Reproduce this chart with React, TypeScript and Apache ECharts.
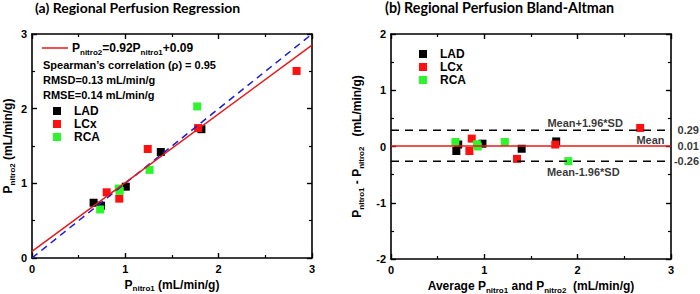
import React, { useEffect, useRef } from 'react';
import * as echarts from 'echarts';

// (a) regression: P_nitro1 (x) vs P_nitro2 (y)
const ladP1 = [0.66, 0.74, 1.005, 1.38, 1.815];
const ladP2 = [0.74, 0.70, 0.955, 1.42, 1.725];
const lcxP1 = [0.80, 0.935, 1.24, 1.78, 2.835];
const lcxP2 = [0.88, 0.795, 1.46, 1.74, 2.505];
const rcaP1 = [0.73, 0.93, 0.94, 1.26, 1.77];
const rcaP2 = [0.65, 0.93, 0.90, 1.18, 2.03];
const regLineX = [0, 3];
const regLineY = [0.09, 2.85];
const idLineX = [0, 3];
const idLineY = [0, 3];

// (b) Bland-Altman: average (x) vs difference (y)
const ladAvg = [0.70, 0.72, 0.98, 1.40, 1.77];
const ladDiff = [-0.08, 0.035, 0.05, -0.04, 0.09];
const lcxAvg = [0.84, 0.865, 1.35, 1.76, 2.67];
const lcxDiff = [-0.08, 0.14, -0.22, 0.035, 0.33];
const rcaAvg = [0.69, 0.93, 0.92, 1.22, 1.90];
const rcaDiff = [0.08, 0.0, 0.04, 0.08, -0.26];
const baX = [0, 3];
const meanDiff = 0.01;
const upperLoA = 0.29;
const lowerLoA = -0.26;
const baNotes = [
  { x: 2.08, y: 0.41, text: 'Mean+1.96*SD' },
  { x: 2.78, y: 0.11, text: 'Mean' },
  { x: 2.06, y: -0.45, text: 'Mean-1.96*SD' },
];
const valueLabelX = 3.3;
const valueLabels = [
  { y: upperLoA, text: '0.29' },
  { y: meanDiff, text: '0.01' },
  { y: lowerLoA, text: '-0.26' },
];

const xTicksA = [0, 1, 2, 3];
const yTicksA = [0, 1, 2, 3];
const xTicksB = [0, 1, 2, 3];
const yTicksB = [-2, -1, 0, 1, 2];

const groups = ['LAD', 'LCx', 'RCA'];
const colors: Record<string, string> = { LAD: '#000000', LCx: '#ff1010', RCA: '#2cf52c' };

const FONT = '"Liberation Sans", Arial, sans-serif';
const TITLE_FONT = 'Lato, "Open Sans", sans-serif';

const zip = (a: number[], b: number[]) => a.map((v, i) => [v, b[i]]);

const subRich = {
  t: { fontFamily: FONT, fontWeight: 'bold', fontSize: 12, color: '#000', lineHeight: 16 },
  s: { fontFamily: FONT, fontWeight: 'bold', fontSize: 8, color: '#000', lineHeight: 8, verticalAlign: 'bottom' },
};

function axisCommon(gridIndex: number, ticks: number[], showLabels: boolean) {
  return {
    type: 'value',
    gridIndex,
    min: ticks[0],
    max: ticks[ticks.length - 1],
    interval: 1,
    axisLine: { show: true, onZero: false, lineStyle: { color: '#000', width: 1.6 } },
    axisTick: { show: true, inside: true, length: 5, lineStyle: { color: '#000', width: 1.4 } },
    minorTick: { show: true, splitNumber: 2, length: 3, lineStyle: { color: '#000', width: 1.2 } },
    splitLine: { show: false },
    axisLabel: {
      show: showLabels,
      margin: 5,
      fontFamily: FONT,
      fontWeight: 'bold',
      fontSize: 11,
      color: '#000',
    },
  };
}

const legendCommon = {
  data: groups,
  orient: 'vertical',
  itemWidth: 8,
  itemHeight: 8,
  itemGap: 1,
  icon: 'rect',
  textStyle: { fontFamily: FONT, fontWeight: 'bold', fontSize: 12, color: '#000', padding: [0, 0, 0, 8] },
};

export default function App() {
  const ref = useRef<HTMLDivElement>(null);
  useEffect(() => {
    if (!ref.current) return;
    const chart = echarts.init(ref.current, undefined, { renderer: 'svg' });

    const p1s = [ladP1, lcxP1, rcaP1];
    const p2s = [ladP2, lcxP2, rcaP2];
    const avgs = [ladAvg, lcxAvg, rcaAvg];
    const diffs = [ladDiff, lcxDiff, rcaDiff];

    const scatterA = groups.map((g, i) => ({
      name: g,
      type: 'scatter',
      xAxisIndex: 0,
      yAxisIndex: 0,
      symbol: 'rect',
      symbolSize: 8,
      itemStyle: { color: colors[g], opacity: 1 },
      z: 2,
      data: zip(p1s[i], p2s[i]),
    }));
    const scatterB = groups.map((g, i) => ({
      name: g,
      type: 'scatter',
      xAxisIndex: 2,
      yAxisIndex: 2,
      symbol: 'rect',
      symbolSize: 8,
      itemStyle: { color: colors[g], opacity: 1 },
      z: 2,
      data: zip(avgs[i], diffs[i]),
    }));

    const hLine = (y: number, color: string, type: any) => ({
      type: 'line',
      xAxisIndex: 2,
      yAxisIndex: 2,
      symbol: 'none',
      silent: true,
      z: 3,
      lineStyle: { color, width: 1.5, type },
      data: baX.map((x) => [x, y]),
    });

    const labelStyle = {
      fontFamily: FONT,
      fontWeight: 'bold',
      fontSize: 11,
      color: '#000',
    };

    const option: any = {
      animation: false,
      backgroundColor: '#fff',
      grid: [
        { left: 32, top: 34, width: 280, height: 224, outerBoundsMode: 'none', containLabel: false },
        { left: 391, top: 34, width: 280, height: 225, outerBoundsMode: 'none', containLabel: false },
      ],
      xAxis: [
        {
          ...axisCommon(0, xTicksA, true),
          position: 'bottom',
          name: '{t|P}{s|nitro1}{t| (mL/min/g)}',
          nameLocation: 'middle',
          nameGap: 17,
          nameTextStyle: { rich: subRich },
        },
        { ...axisCommon(0, xTicksA, false), position: 'top' },
        {
          ...axisCommon(1, xTicksB, true),
          position: 'bottom',
          name: '{t|Average P}{s|nitro1}{t| and P}{s|nitro2}{t|  (mL/min/g)}',
          nameLocation: 'middle',
          nameGap: 19,
          nameTextStyle: { rich: subRich },
        },
        { ...axisCommon(1, xTicksB, false), position: 'top' },
      ],
      yAxis: [
        {
          ...axisCommon(0, yTicksA, true),
          position: 'left',
          name: '{t|P}{s|nitro2}{t| (mL/min/g)}',
          nameLocation: 'middle',
          nameGap: 16,
          nameTextStyle: { rich: subRich },
        },
        { ...axisCommon(0, yTicksA, false), position: 'right' },
        {
          ...axisCommon(1, yTicksB, true),
          position: 'left',
          name: '{t|P}{s|nitro1}{t| - P}{s|nitro2}{t|   (mL/min/g)}',
          nameLocation: 'middle',
          nameGap: 26,
          nameTextStyle: { rich: subRich },
        },
        { ...axisCommon(1, yTicksB, false), position: 'right' },
      ],
      legend: [
        { ...legendCommon, left: 48, top: 100 },
        { ...legendCommon, left: 414, top: 43 },
      ],
      graphic: [
        {
          type: 'text',
          left: 35,
          top: 0,
          style: { text: '(a) Regional Perfusion Regression', font: `bold 14px ${TITLE_FONT}`, fill: '#000' },
        },
        {
          type: 'text',
          left: 385,
          top: 0,
          style: { text: '(b) Regional Perfusion Bland-Altman', font: `bold 14.3px ${TITLE_FONT}`, fill: '#000' },
        },
        {
          type: 'line',
          shape: { x1: 42, y1: 48, x2: 68, y2: 48 },
          style: { stroke: '#e81818', lineWidth: 1.5 },
        },
        {
          type: 'text',
          x: 72,
          y: 48,
          style: {
            text: '{t|P}{s|nitro2}{t|=0.92P}{s|nitro1}{t|+0.09}',
            rich: subRich,
            verticalAlign: 'middle',
          },
        },
        {
          type: 'text',
          x: 43,
          y: 65,
          style: { text: 'Spearman’s correlation (ρ) = 0.95', font: `bold 11px ${FONT}`, fill: '#000', verticalAlign: 'middle' },
        },
        {
          type: 'text',
          x: 43,
          y: 80,
          style: { text: 'RMSD=0.13 mL/min/g', font: `bold 11px ${FONT}`, fill: '#000', verticalAlign: 'middle' },
        },
        {
          type: 'text',
          x: 43,
          y: 95,
          style: { text: 'RMSE=0.14 mL/min/g', font: `bold 11px ${FONT}`, fill: '#000', verticalAlign: 'middle' },
        },
      ],
      series: [
        ...scatterA,
        {
          name: 'regression',
          type: 'line',
          xAxisIndex: 0,
          yAxisIndex: 0,
          symbol: 'none',
          silent: true,
          z: 4,
          lineStyle: { color: '#e81818', width: 1.5 },
          data: zip(regLineX, regLineY),
        },
        {
          name: 'identity',
          type: 'line',
          xAxisIndex: 0,
          yAxisIndex: 0,
          symbol: 'none',
          silent: true,
          z: 3,
          lineStyle: { color: '#1c1cd0', width: 1.5, type: [7, 5] },
          data: zip(idLineX, idLineY),
        },
        ...scatterB,
        hLine(meanDiff, '#e81818', 'solid'),
        hLine(upperLoA, '#000', [8, 6]),
        hLine(lowerLoA, '#000', [8, 6]),
        {
          name: 'notes',
          type: 'scatter',
          xAxisIndex: 2,
          yAxisIndex: 2,
          symbolSize: 1,
          silent: true,
          clip: false,
          z: 5,
          itemStyle: { color: 'rgba(0,0,0,0)' },
          label: {
            show: true,
            position: 'inside',
            formatter: (p: any) => p.value[2],
            ...labelStyle,
          },
          data: [
            ...baNotes.map((n) => [n.x, n.y, n.text]),
            ...valueLabels.map((v) => ({
              value: [valueLabelX, v.y, v.text],
              label: { align: 'right' },
            })),
          ],
        },
      ],
    };
    chart.setOption(option);
    return () => chart.dispose();
  }, []);
  return <div ref={ref} style={{ width: 700, height: 294, position: 'absolute', left: 0, top: 0 }} />;
}
